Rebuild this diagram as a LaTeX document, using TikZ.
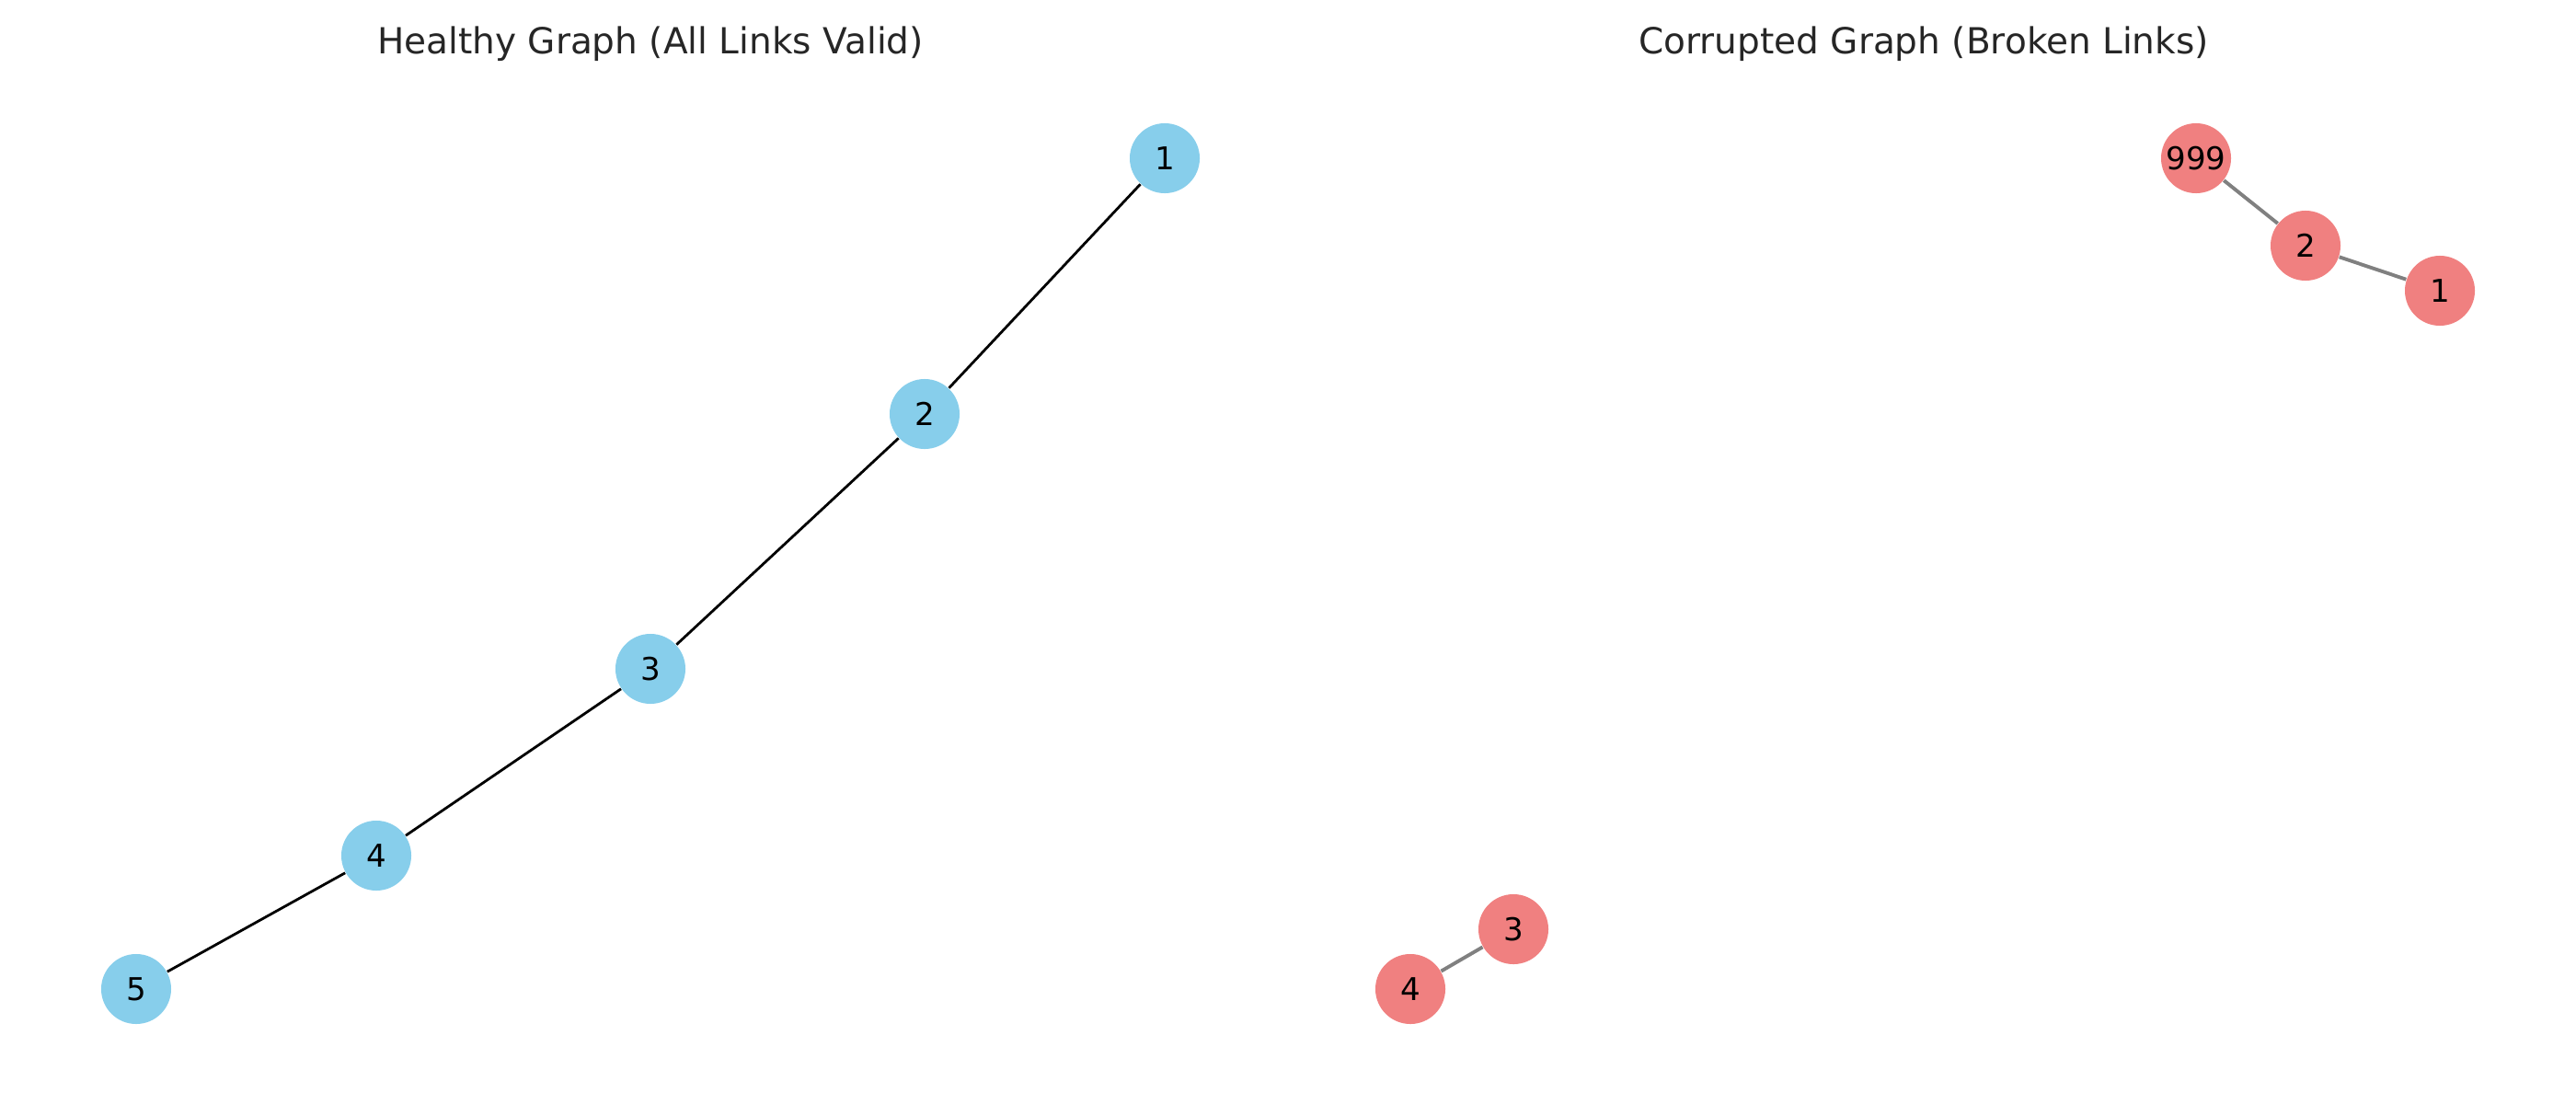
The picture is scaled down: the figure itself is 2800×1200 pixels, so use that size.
\documentclass[tikz,border=0pt]{standalone}
\usepackage{fontspec}
\setmainfont{DejaVu Sans}
\definecolor{healthyblue}{HTML}{87CEEB}
\definecolor{brokenred}{HTML}{F08080}
\definecolor{titlegray}{HTML}{262626}
\tikzset{
    okvertex/.style={circle, fill=healthyblue, minimum size=0.76cm, inner sep=0pt, font=\fontsize{9.7}{11}\selectfont},
    badvertex/.style={circle, fill=brokenred, minimum size=0.76cm, inner sep=0pt, font=\fontsize{9.7}{11}\selectfont},
    oklink/.style={black, line width=0.8pt},
    badlink/.style={gray, line width=1.1pt},
    paneltitle/.style={text=titlegray, font=\fontsize{11.1}{13}\selectfont}
}
\begin{document}
\begin{tikzpicture}[x=0.01cm, y=-0.01cm]
        \useasboundingbox (0, 0) rectangle (2800, 1200);

        % left panel
        \node[paneltitle] (lefttitle) at (707, 48) {Healthy Graph (All Links Valid)};
        \node[okvertex] (h1) at (1266, 172) {1};
        \node[okvertex] (h2) at (1005, 450) {2};
        \node[okvertex] (h3) at (707, 727) {3};
        \node[okvertex] (h4) at (409, 930) {4};
        \node[okvertex] (h5) at (148, 1075) {5};
        \draw[oklink] (h1) -- (h2);
        \draw[oklink] (h2) -- (h3);
        \draw[oklink] (h3) -- (h4);
        \draw[oklink] (h4) -- (h5);

        % right panel
        \node[paneltitle] (righttitle) at (2091, 48) {Corrupted Graph (Broken Links)};
        \node[badvertex] (c999) at (2387, 172) {999};
        \node[badvertex] (c2) at (2506, 267) {2};
        \node[badvertex] (c1) at (2652, 316) {1};
        \node[badvertex] (c3) at (1645, 1010) {3};
        \node[badvertex] (c4) at (1533, 1075) {4};
        \draw[badlink] (c999) -- (c2);
        \draw[badlink] (c2) -- (c1);
        \draw[badlink] (c3) -- (c4);
    \end{tikzpicture}
\end{document}
